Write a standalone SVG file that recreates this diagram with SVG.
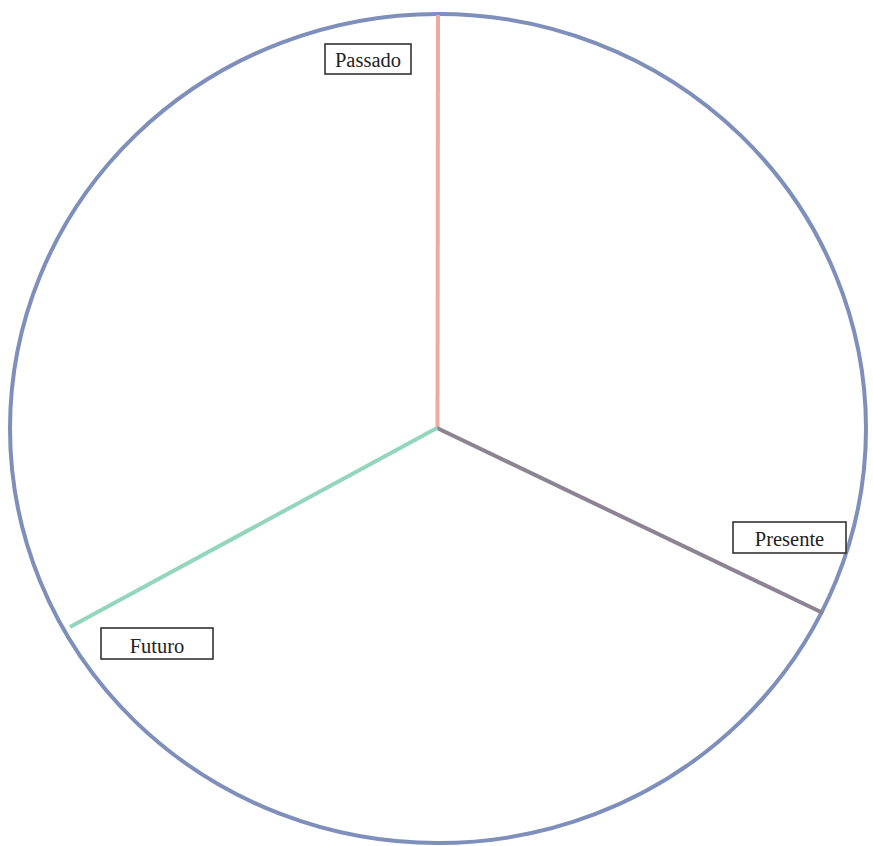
<svg xmlns="http://www.w3.org/2000/svg" width="873" height="846" viewBox="0 0 873 846">
<style>
.lbl rect{fill:#fff;stroke:#333;stroke-width:1.6}
.lbl text{font-family:"Liberation Serif","Times New Roman",serif;font-size:20.5px;fill:#222;text-anchor:middle}
.spoke{stroke-width:4;fill:none;stroke-linecap:butt}
</style>
<rect width="873" height="846" fill="#fff"/>
<g id="circle">
<ellipse cx="438" cy="428.5" rx="428" ry="414.5" fill="none" stroke="#7d8fba" stroke-width="4"/>
</g>
<g id="connectors">
<line class="spoke" x1="437.5" y1="428" x2="438" y2="15" stroke="#eeaa9c"/>
<line class="spoke" x1="437" y1="428" x2="823" y2="613" stroke="#8c8492"/>
<line class="spoke" x1="437" y1="428" x2="70" y2="627" stroke="#93d6bd"/>
</g>
<g id="passado" class="lbl">
<rect x="325" y="44" width="86" height="30"/>
<text x="368" y="67">Passado</text>
</g>
<g id="presente" class="lbl">
<rect x="733" y="522" width="113" height="31"/>
<text x="789.5" y="546">Presente</text>
</g>
<g id="futuro" class="lbl">
<rect x="101" y="628" width="112" height="31"/>
<text x="157" y="653">Futuro</text>
</g>
</svg>
